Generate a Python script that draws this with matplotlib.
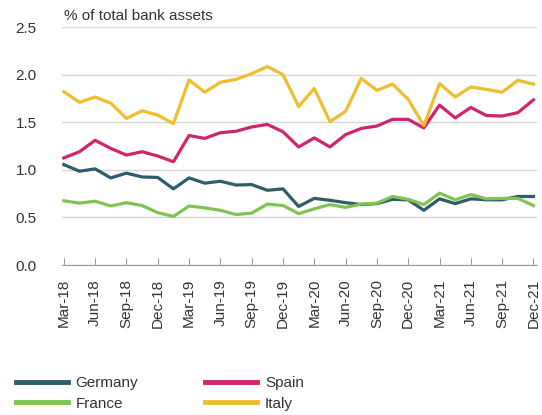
import matplotlib.pyplot as plt

plt.rcParams['font.family'] = ['Liberation Sans', 'DejaVu Sans']

# x axis: 31 observations, a label on every second one
tick_labels = ["Mar-18", "Jun-18", "Sep-18", "Dec-18", "Mar-19", "Jun-19", "Sep-19", "Dec-19",
               "Mar-20", "Jun-20", "Sep-20", "Dec-20", "Mar-21", "Jun-21", "Sep-21", "Dec-21"]

# % of total bank assets
germany = [1.055, 0.985, 1.01, 0.915, 0.965, 0.925, 0.92, 0.80, 0.915, 0.86, 0.88, 0.84, 0.845, 0.785,
           0.80, 0.615, 0.70, 0.68, 0.655, 0.635, 0.645, 0.69, 0.685, 0.575, 0.695, 0.645, 0.695,
           0.685, 0.685, 0.72, 0.72]
france = [0.675, 0.65, 0.67, 0.62, 0.655, 0.625, 0.55, 0.51, 0.62, 0.60, 0.575, 0.53, 0.545, 0.64,
          0.625, 0.54, 0.59, 0.635, 0.605, 0.64, 0.65, 0.72, 0.69, 0.635, 0.755, 0.685, 0.74,
          0.695, 0.70, 0.70, 0.625]
spain = [1.125, 1.19, 1.31, 1.225, 1.155, 1.19, 1.145, 1.085, 1.36, 1.33, 1.39, 1.405, 1.45, 1.477,
         1.40, 1.24, 1.335, 1.24, 1.37, 1.435, 1.46, 1.53, 1.53, 1.44, 1.68, 1.545, 1.655,
         1.57, 1.565, 1.60, 1.735]
italy = [1.82, 1.71, 1.765, 1.70, 1.54, 1.62, 1.575, 1.485, 1.945, 1.815, 1.92, 1.95, 2.01, 2.085,
         2.00, 1.665, 1.855, 1.505, 1.615, 1.96, 1.835, 1.90, 1.74, 1.465, 1.905, 1.765, 1.87,
         1.845, 1.815, 1.94, 1.90]

x = list(range(len(germany)))

fig = plt.figure(figsize=(5.42, 4.15), dpi=100)
ax = fig.add_axes([0.114, 0.3614, 0.876, 0.5735])

lw = 2.3
ax.plot(x, germany, color="#2d5c6a", lw=lw, label="Germany")
ax.plot(x, france, color="#7fc452", lw=lw, label="France")
ax.plot(x, spain, color="#d0246d", lw=lw, label="Spain")
ax.plot(x, italy, color="#efbe2f", lw=lw, label="Italy")

ax.set_ylim(0, 2.5)
ax.set_xlim(-0.13, 30.2)
ax.set_yticks([0, 0.5, 1.0, 1.5, 2.0, 2.5])
ax.set_yticklabels(["0.0", "0.5", "1.0", "1.5", "2.0", "2.5"])
ax.set_xticks(x[::2])
ax.set_xticklabels(tick_labels, rotation=90)

ax.grid(axis="y", color="#d6d6d6", lw=1)
ax.set_axisbelow(True)
for s in ["top", "right", "left"]:
    ax.spines[s].set_visible(False)
ax.spines["bottom"].set_color("#9a9a9a")
ax.tick_params(axis="y", length=0, pad=18, labelsize=11, colors="#333333")
ax.tick_params(axis="x", direction="in", length=5, color="#9a9a9a", labelsize=11,
               labelcolor="#333333", pad=10)

fig.text(64 / 542, 1 - 20 / 415, "% of total bank assets", fontsize=11, color="#333333",
         va="baseline")

fig.legend(loc="center left", bbox_to_anchor=(16 / 542, 1 - 393.5 / 415), ncol=2, frameon=False,
           fontsize=11, handlelength=3.4, handletextpad=0.5, columnspacing=4.4,
           labelspacing=0.4, borderpad=0, borderaxespad=0, labelcolor="#333333")
for line in fig.legends[0].get_lines():
    line.set_linewidth(3.5)

fig.savefig("out.png", dpi=100)
